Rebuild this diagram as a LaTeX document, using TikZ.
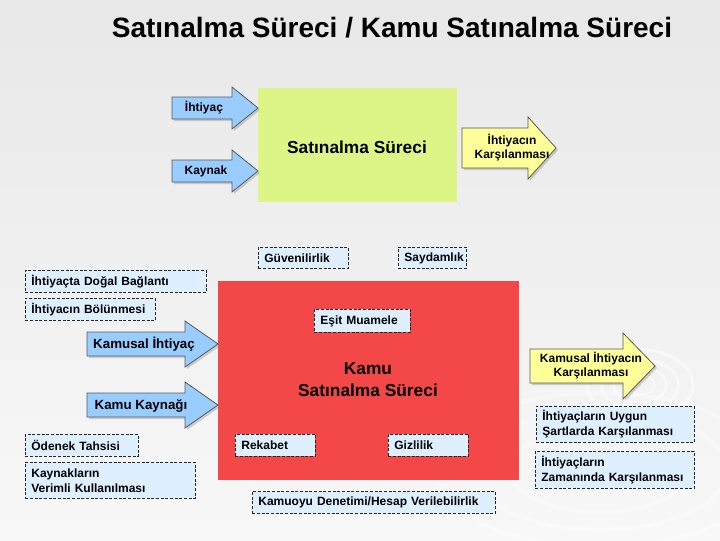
\documentclass[tikz,border=0pt]{standalone}
\usepackage{fontspec}
\setmainfont{Liberation Sans}
\usetikzlibrary{shadows}
\definecolor{bgtop}{RGB}{232,232,232}
\definecolor{bgbot}{RGB}{248,248,248}
\definecolor{lime}{RGB}{221,245,135}
\definecolor{redbox}{RGB}{244,72,72}
\definecolor{arrowblue}{RGB}{153,204,255}
\definecolor{arrowyellow}{RGB}{255,255,153}
\definecolor{paleblue}{RGB}{222,240,255}
\definecolor{edgegray}{RGB}{90,90,90}
\newcommand{\fatarrow}[7]{%
  \draw[#1] ({#2},{#5-#6}) -- ({#3},{#5-#6}) -- ({#3},{#5-#7}) -- ({#4},{#5})
    -- ({#3},{#5+#7}) -- ({#3},{#5+#6}) -- ({#2},{#5+#6}) -- cycle;}
\tikzset{
  bluearrow/.style={fill=arrowblue, draw=edgegray, line width=0.6pt, line join=miter,
    drop shadow={shadow xshift=1.5pt, shadow yshift=-1.5pt, opacity=0.35}},
  yellowarrow/.style={fill=arrowyellow, draw=edgegray, line width=0.6pt, line join=miter,
    drop shadow={shadow xshift=1.5pt, shadow yshift=-1.5pt, opacity=0.35}},
  lbl/.style={font=\bfseries\fontsize{9}{10.5}\selectfont, inner sep=0pt, align=center},
  dbox/.style={draw=black!85, dash pattern=on 2.2pt off 1.3pt, line width=0.6pt,
    fill=paleblue, anchor=north west, align=left, inner xsep=4.5pt, inner ysep=0pt,
    font=\bfseries\fontsize{9}{11}\selectfont},
}
\begin{document}
\begin{tikzpicture}[x=0.75pt, y=-0.75pt]
\useasboundingbox (0,0) rectangle (720,540);
\shade[top color=bgtop, bottom color=bgbot] (0,0) rectangle (720,540);
% faint swirls
\foreach \r in {12,22,32,44} {
  \draw[white, line width=2pt, opacity=0.5] (640,385) ellipse ({\r*1.2} and {\r*0.8});
}
\foreach \r in {60,85,110} {
  \draw[white, line width=3pt, opacity=0.3] (600,470) ellipse ({\r*1.5} and {\r*0.7});
}

% title
\node[font=\bfseries\fontsize{21}{24}\selectfont, inner sep=0pt] (title) at (392,28)
  {Satınalma Süreci / Kamu Satınalma Süreci};

% upper block
\draw[fill=lime, draw=none] (258,88) rectangle (457,202);
\node[font=\bfseries\fontsize{13}{15}\selectfont, inner sep=0pt] (sat) at (357,147) {Satınalma Süreci};

\fatarrow{bluearrow}{172}{232}{258}{108}{11}{21}
\node[lbl] (ihtiyac) at (204,108) {İhtiyaç};
\fatarrow{bluearrow}{172}{232}{258}{171}{11}{21}
\node[lbl] (kaynak) at (206,171) {Kaynak};
\fatarrow{yellowarrow}{462}{528}{556}{148}{20}{31}
\node[lbl] (karsilanma) at (512,148) {İhtiyacın\\Karşılanması};

% lower block
\draw[fill=redbox, draw=none] (218,281) rectangle (519,480);
\node[font=\bfseries\fontsize{13}{16.5}\selectfont, inner sep=0pt, align=center] (kamusat) at (368,380)
  {Kamu\\Satınalma Süreci};

\node[dbox, text width=78*0.75pt, minimum height=21*0.75pt] (guven) at (258,247) {Güvenilirlik};
\node[dbox, text width=56*0.75pt, minimum height=21*0.75pt] (sayd) at (398,247) {Saydamlık};
\node[dbox, text width=169*0.75pt, minimum height=22*0.75pt] (dogal) at (25,270) {İhtiyaçta Doğal Bağlantı};
\node[dbox, text width=118*0.75pt, minimum height=22*0.75pt] (bolun) at (25,298) {İhtiyacın Bölünmesi};
\node[dbox, text width=84*0.75pt, minimum height=23*0.75pt] (esit) at (314,309) {Eşit Muamele};

\fatarrow{bluearrow}{87}{185}{218}{344}{12}{23}
\node[lbl, font=\bfseries\fontsize{10}{12}\selectfont] (kamihtiyac) at (144,344) {Kamusal İhtiyaç};
\fatarrow{bluearrow}{87}{185}{218}{405}{12}{23}
\node[lbl, font=\bfseries\fontsize{10}{12}\selectfont] (kamkaynak) at (141,406) {Kamu Kaynağı};

\fatarrow{yellowarrow}{530}{623}{655}{366}{17}{33}
\node[lbl] (kamkarsi) at (591,366) {Kamusal İhtiyacın\\Karşılanması};

\node[dbox, text width=101*0.75pt, minimum height=22*0.75pt] (odenek) at (25,434) {Ödenek Tahsisi};
\node[dbox, text width=158*0.75pt, minimum height=36*0.75pt] (verimli) at (25,462) {Kaynakların\\Verimli Kullanılması};
\node[dbox, text width=68*0.75pt, minimum height=22*0.75pt] (rekabet) at (235,434) {Rekabet};
\node[dbox, text width=68*0.75pt, minimum height=22*0.75pt] (gizli) at (388,434) {Gizlilik};
\node[dbox, text width=231*0.75pt, minimum height=22*0.75pt] (denetim) at (252,491) {Kamuoyu Denetimi/Hesap Verilebilirlik};
\node[dbox, text width=146*0.75pt, minimum height=36*0.75pt] (uygun) at (536,406) {İhtiyaçların Uygun\\Şartlarda Karşılanması};
\node[dbox, text width=147*0.75pt, minimum height=37*0.75pt] (zaman) at (535,451) {İhtiyaçların\\Zamanında Karşılanması};
\end{tikzpicture}
\end{document}
